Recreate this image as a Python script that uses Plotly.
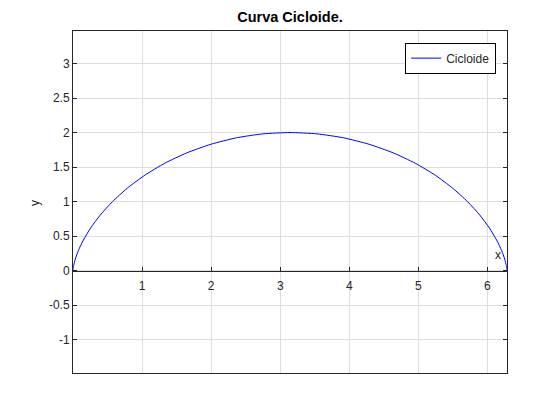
import plotly.graph_objects as go

# Points
x_vals = [0.0, 0.0013, 0.010, 0.033, 0.078, 0.150, 0.254, 0.394, 0.571, 0.786,
          1.040, 1.328, 1.649, 1.997, 2.366, 2.750, 3.1416, 3.533, 3.917, 4.286,
          4.634, 4.955, 5.244, 5.497, 5.712, 5.890, 6.029, 6.133, 6.205, 6.250,
          6.273, 6.2819, 6.2832]
y_vals = [0.0, 0.019, 0.076, 0.169, 0.293, 0.444, 0.617, 0.805, 1.000, 1.195,
          1.383, 1.556, 1.707, 1.831, 1.924, 1.981, 2.000, 1.981, 1.924, 1.831,
          1.707, 1.556, 1.383, 1.195, 1.000, 0.805, 0.617, 0.444, 0.293, 0.169,
          0.076, 0.019, 0.0]

x_ticks = [1, 2, 3, 4, 5, 6]
y_ticks = [-1, -0.5, 0, 0.5, 1, 1.5, 2, 2.5, 3]
y_tick_text = ["-1", "-0.5", "0", "0.5", "1", "1.5", "2", "2.5", "3"]

x_range = [0, 6.2832]
y_range = [-1.48, 3.47]

title_text = "Curva Cicloide."
series_name = "Cicloide"

FONT = "Liberation Sans, Arial, Helvetica, sans-serif"
GRID = "#dedede"
TXT = "#262626"
FS = 12

W, H = 552, 412

fig = go.Figure()
fig.add_trace(go.Scatter(x=x_vals, y=y_vals, mode="lines", name=series_name,
                         line=dict(color="#0000ff", width=1, shape="spline", smoothing=0.6),
                         xaxis="x", yaxis="y"))

zero_pos = (0 - y_range[0]) / (y_range[1] - y_range[0])

fig.update_layout(
    width=W, height=H,
    margin=dict(l=65, r=53, t=23, b=47),
    paper_bgcolor="white", plot_bgcolor="white",
    font=dict(family=FONT, size=FS, color=TXT),
    title=dict(text="<b>" + title_text + "</b>", x=0.5, xref="paper",
               y=1 - 9 / H, yref="container", yanchor="middle", xanchor="center",
               font=dict(size=14.5, color="black", family=FONT)),
    showlegend=True,
    legend=dict(x=0.975, y=0.966, xanchor="right", yanchor="top",
                bgcolor="white", bordercolor="black", borderwidth=1,
                font=dict(size=FS, color=TXT, family=FONT),
                tracegroupgap=0, itemwidth=30),
    xaxis=dict(range=x_range, tickvals=x_ticks, showticklabels=False, ticks="",
               showgrid=True, gridcolor=GRID, gridwidth=1, zeroline=False,
               showline=True, linecolor="#262626", linewidth=1, mirror=True),
    xaxis2=dict(range=x_range, overlaying="x", anchor="free", position=zero_pos,
                side="bottom", tickvals=x_ticks, ticktext=[str(t) for t in x_ticks],
                ticks="inside", ticklen=4, tickcolor="#262626", ticklabelstandoff=4,
                showgrid=False, zeroline=False, showline=True,
                linecolor="#262626", linewidth=1,
                tickfont=dict(size=FS, color=TXT, family=FONT)),
    yaxis=dict(range=y_range, tickvals=y_ticks, ticktext=y_tick_text,
               ticks="inside", ticklen=4, tickcolor="#262626",
               showgrid=True, gridcolor=GRID, gridwidth=1, zeroline=False,
               showline=True, linecolor="#262626", linewidth=1, mirror="ticks",
               tickfont=dict(size=FS, color=TXT, family=FONT)),
    annotations=[
        dict(text="x", xref="x", yref="y", x=6.16, y=0.23, showarrow=False,
             font=dict(size=FS, color=TXT, family=FONT)),
        dict(text="y", xref="paper", yref="paper", x=-0.0876, y=0.497,
             textangle=-90, showarrow=False, xanchor="center", yanchor="middle",
             font=dict(size=FS, color=TXT, family=FONT)),
    ],
)

# invisible trace to activate the x axis drawn through y = 0
fig.add_trace(go.Scatter(x=[x_range[0]], y=[0], xaxis="x2", yaxis="y",
                         mode="markers", marker=dict(opacity=0), showlegend=False,
                         hoverinfo="skip"))

fig.write_html("out.html")
